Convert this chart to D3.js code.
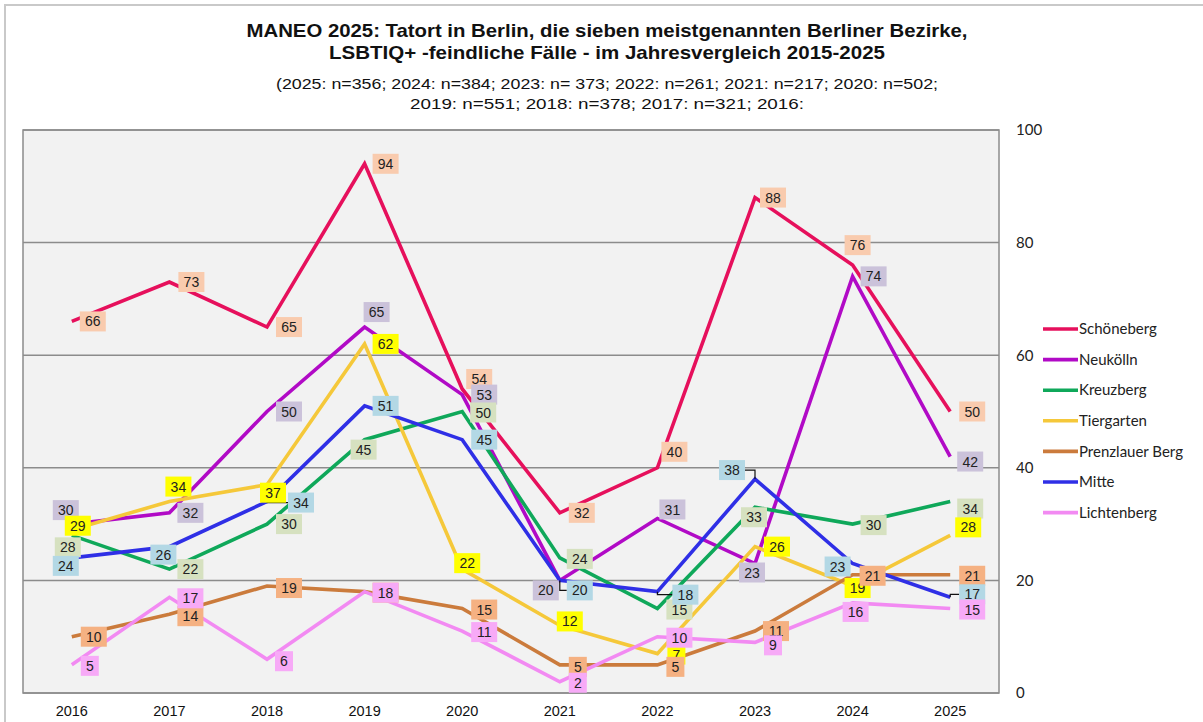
<!DOCTYPE html>
<html>
<head>
<meta charset="utf-8">
<script src="https://cdn.jsdelivr.net/npm/d3@7"></script>
<style>
  body { margin: 0; background: #fff; }
  svg { display: block; }
  .lbl text { font-family: "Liberation Sans", Arial, sans-serif; font-size: 14px; fill: #222; }
</style>
</head>
<body>
<svg id="chart" width="1203" height="722"></svg>
<script>
'use strict';

// data
const years = ["2016","2017","2018","2019","2020","2021","2022","2023","2024","2025"];
const districts = ["Schöneberg","Neukölln","Kreuzberg","Tiergarten","Prenzlauer Berg","Mitte","Lichtenberg"];
const schoeneberg    = [66, 73, 65, 94, 54, 32, 40, 88, 76, 50];
const neukoelln      = [30, 32, 50, 65, 53, 20, 31, 23, 74, 42];
const kreuzberg      = [28, 22, 30, 45, 50, 24, 15, 33, 30, 34];
const tiergarten     = [29, 34, 37, 62, 22, 12,  7, 26, 19, 28];
const prenzlauerBerg = [10, 14, 19, 18, 15,  5,  5, 11, 21, 21];
const mitte          = [24, 26, 34, 51, 45, 20, 18, 38, 23, 17];
const lichtenberg    = [ 5, 17,  6, 18, 11,  2, 10,  9, 16, 15];
const yTicks = [0, 20, 40, 60, 80, 100];

const series = [schoeneberg, neukoelln, kreuzberg, tiergarten, prenzlauerBerg, mitte, lichtenberg];

// styles
const lineColors  = ["#e6105c", "#b10ac6", "#0fa85a", "#f5c83a", "#cb7b3c", "#2f2fe6", "#f28af2"];
const labelColors = ["#f9cbae", "#cbc2da", "#d6e1c0", "#ffff00", "#f5b182", "#b3d8e5", "#f7aaf7"];

// label placement relative to the point: [dx, dy, leader]
const labelOffsets = [
  [[21,0],[22,0],[22,0],[21,0],[17,-10],[22,0],[17,-16],[18,0],[5,-20],[22,0]],
  [[-6,-14],[21,0],[22,0],[12,-15],[22,0],[-14,10],[15,-9],[-3,9],[21,0],[20,5]],
  [[-4,12],[21,0],[22,0],[-1,10],[21,1],[20,1],[22,1],[-1,10],[21,1],[20,7]],
  [[6,-4],[9,-15],[6,8],[21,0],[5,-6],[10,-4],[19,1],[22,0],[5,2],[18,-8]],
  [[22,0],[21,2],[22,2],[21,1],[22,1],[18,2],[18,2],[21,0],[20,1],[22,1]],
  [[-6,8],[-6,8],[34,1,1],[21,0],[22,0],[20,10,1],[28,3,1],[-23,-9,1],[-15,3],[22,-3,1]],
  [[18,1],[21,1],[17,2],[21,1],[22,1],[18,1],[22,1],[18,3],[3,9],[22,1]]
];

const svg = d3.select("#chart");
const plotLeft = 23, plotRight = 999, plotTop = 130, plotBottom = 693;

const x = d3.scaleBand().domain(years).range([plotLeft, plotRight]).paddingInner(0);
const cx = d => x(d) + x.bandwidth() / 2;
const y = d3.scaleLinear().domain([0, 100]).range([plotBottom, plotTop]);

// outer frame
svg.append("rect").attr("x", 5).attr("y", 5).attr("width", 1230).attr("height", 740)
  .attr("fill", "none").attr("stroke", "#c9c9c9").attr("stroke-width", 2);

// title
const titles = [
  {t: "MANEO 2025: Tatort in Berlin, die sieben meistgenannten Berliner Bezirke,", y: 37, w: 721, s: 19, b: true},
  {t: "LSBTIQ+ -feindliche Fälle - im Jahresvergleich 2015-2025", y: 59, w: 556, s: 19, b: true},
  {t: "(2025: n=356; 2024: n=384; 2023: n= 373; 2022: n=261; 2021: n=217; 2020: n=502;", y: 89, w: 662, s: 15, b: false},
  {t: "2019: n=551; 2018: n=378; 2017: n=321; 2016:", y: 109, w: 394, s: 15, b: false}
];
svg.selectAll("text.title").data(titles).join("text")
  .attr("class", "title")
  .attr("x", 607).attr("y", d => d.y)
  .attr("text-anchor", "middle")
  .attr("textLength", d => d.w).attr("lengthAdjust", "spacingAndGlyphs")
  .style("font-family", "'Liberation Sans', Arial, sans-serif")
  .style("font-size", d => d.s + "px")
  .style("font-weight", d => d.b ? "bold" : "normal")
  .style("fill", "#111")
  .text(d => d.t);

// plot area
svg.append("rect").attr("x", plotLeft).attr("y", plotTop).attr("width", plotRight - plotLeft).attr("height", plotBottom - plotTop)
  .attr("fill", "#f2f2f2");

svg.append("g").selectAll("line").data(yTicks).join("line")
  .attr("x1", plotLeft).attr("x2", plotRight)
  .attr("y1", d => y(d)).attr("y2", d => y(d))
  .attr("stroke", "#8c8c8c").attr("stroke-width", 1.5);

svg.append("rect").attr("x", plotLeft).attr("y", plotTop).attr("width", plotRight - plotLeft).attr("height", plotBottom - plotTop)
  .attr("fill", "none").attr("stroke", "#8c8c8c").attr("stroke-width", 1.5);

// axes
const yAxis = svg.append("g").attr("transform", `translate(${plotRight + 14},0)`)
  .call(d3.axisRight(y).tickValues(yTicks).tickSize(0).tickPadding(3));
yAxis.select(".domain").remove();
yAxis.selectAll("text").style("font-family", "Lato, 'Open Sans', sans-serif").style("font-size", "15px").attr("fill", "#222");

const xAxis = svg.append("g").attr("transform", `translate(0,${plotBottom})`)
  .call(d3.axisBottom(x).tickSize(0).tickPadding(13));
xAxis.select(".domain").remove();
xAxis.selectAll("text").style("font-family", "'Liberation Sans', Arial, sans-serif").style("font-size", "14.5px").attr("fill", "#111");

// lines
const line = d3.line().x((d, i) => cx(years[i])).y(d => y(d));
svg.append("g").selectAll("path").data(series).join("path")
  .attr("d", line)
  .attr("fill", "none")
  .attr("stroke", (d, i) => lineColors[i])
  .attr("stroke-width", 3.6)
  .attr("stroke-linejoin", "miter");

// data labels
const labels = [];
series.forEach((vals, s) => vals.forEach((v, i) => {
  const o = labelOffsets[s][i];
  labels.push({s, v, px: cx(years[i]), py: y(v), dx: o[0], dy: o[1], leader: o[2]});
}));

const lg = svg.append("g").attr("class", "lbl");
labels.filter(d => d.leader).forEach(d => {
  const lx = d.px + d.dx, ly = d.py + d.dy;
  const hw = String(d.v).length * 4 + 5;
  const edge = d.dx > 0 ? lx - hw : lx + hw;
  lg.append("path")
    .attr("d", `M${d.px},${d.py}V${ly}H${edge}`)
    .attr("fill", "none").attr("stroke", "#111").attr("stroke-width", 1.2);
});

const lab = lg.selectAll("g.l").data(labels).join("g")
  .attr("class", "l")
  .attr("transform", d => `translate(${d.px + d.dx},${d.py + d.dy})`);
lab.append("rect")
  .attr("x", d => -(String(d.v).length * 4 + 5))
  .attr("y", -10)
  .attr("width", d => 2 * (String(d.v).length * 4 + 5))
  .attr("height", 20)
  .attr("fill", d => labelColors[d.s]);
lab.append("text")
  .attr("text-anchor", "middle")
  .attr("dy", "0.36em")
  .text(d => d.v);

// legend
const leg = svg.append("g").attr("transform", "translate(1043,329)");
const li = leg.selectAll("g").data(districts).join("g")
  .attr("transform", (d, i) => `translate(0,${i * 30.6})`);
li.append("line").attr("x1", 0).attr("x2", 35).attr("y1", 0).attr("y2", 0)
  .attr("stroke", (d, i) => lineColors[i]).attr("stroke-width", 3.6);
li.append("text").attr("x", 36).attr("dy", "0.35em")
  .style("font-family", "Lato, 'Open Sans', sans-serif").style("font-size", "15px")
  .attr("fill", "#222")
  .text(d => d);
</script>
</body>
</html>
